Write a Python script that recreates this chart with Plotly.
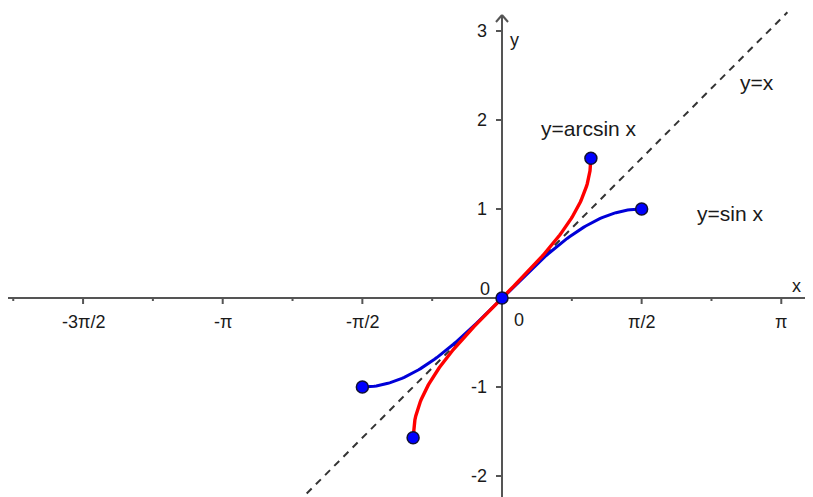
import numpy as np
import plotly.graph_objects as go

# ---- data ----
sin_x = np.linspace(-np.pi / 2, np.pi / 2, 121)          # domain of y = sin x
sin_y = np.sin(sin_x)
asin_x = np.linspace(-1, 1, 201)                         # domain of y = arcsin x
asin_y = np.arcsin(asin_x)
line_x = [-2.3, 3.21]                                    # y = x dashed line
line_y = [-2.3, 3.21]
point_x = [-np.pi / 2, np.pi / 2, -1, 1, 0]
point_y = [-1, 1, -np.pi / 2, np.pi / 2, 0]

xtick_vals = [-3 * np.pi / 2, -np.pi, -np.pi / 2, np.pi / 2, np.pi]
xtick_text = ["-3π/2", "-π", "-π/2", "π/2", "π"]
xminor_vals = [-7 * np.pi / 4, -5 * np.pi / 4, -3 * np.pi / 4, -np.pi / 4,
               np.pi / 4, 3 * np.pi / 4, 5 * np.pi / 4]
ytick_vals = [-2, -1, 1, 2, 3]
ytick_text = ["-2", "-1", "1", "2", "3"]

curve_labels = [("y=arcsin x", 0.98, 1.90), ("y=x", 2.87, 2.42), ("y=sin x", 2.56, 0.955)]

# ---- layout constants ----
# page has an 8px body margin; figure covers page pixels 8..813 x 8..497
W, H = 805, 489
SX, SY = 88.9, 89.0            # px per unit
OX, OY = 502, 298              # origin in page pixels
XR = [(8 - OX) / SX, (813 - OX) / SX]
YR = [-(497 - OY) / SY, (OY - 8) / SY]
AX = "#555555"
TXT = "#1a1a1a"
FONT = "Liberation Sans, Arial, sans-serif"
FS_T = 18
FS_L = 21

fig = go.Figure()

shapes = []
shapes.append(dict(type="line", x0=XR[0], x1=XR[1], y0=0, y1=0, line=dict(color=AX, width=2), layer="below"))
shapes.append(dict(type="line", x0=0, x1=0, y0=YR[0], y1=3.18, line=dict(color=AX, width=2), layer="below"))
for s in (-1, 1):
    shapes.append(dict(type="line", x0=0, y0=3.18, x1=s * 6 / SX, y1=3.18 - 7 / SY,
                       line=dict(color=AX, width=2)))
for v in xtick_vals:
    shapes.append(dict(type="line", x0=v, x1=v, y0=0, y1=-6 / SY, line=dict(color=AX, width=2)))
for v in xminor_vals:
    shapes.append(dict(type="line", x0=v, x1=v, y0=0, y1=-3 / SY, line=dict(color=AX, width=2)))
for v in ytick_vals:
    shapes.append(dict(type="line", x0=0, x1=-6 / SX, y0=v, y1=v, line=dict(color=AX, width=2)))

def txt(x, y, t, size, xa="center"):
    return dict(x=x, y=y, text=t, showarrow=False, xanchor=xa, yanchor="middle",
                font=dict(family=FONT, size=size, color=TXT))

annotations = []
for v, t in zip(xtick_vals, xtick_text):
    annotations.append(txt(v, -24 / SY, t, FS_T))
for v, t in zip(ytick_vals, ytick_text):
    annotations.append(txt(-13 / SX, v, t, FS_T, "right"))
annotations.append(txt(-10 / SX, 9 / SY, "0", FS_T, "right"))
annotations.append(txt(10 / SX, -22 / SY, "0", FS_T, "left"))
annotations.append(txt(3.31, 0.135, "x", FS_T))
annotations.append(txt(0.135, 2.90, "y", FS_T))
for t, x, y in curve_labels:
    annotations.append(txt(x, y, t, FS_L))

fig.add_trace(go.Scatter(x=line_x, y=line_y, mode="lines",
                         line=dict(color="#333333", width=2, dash="7px,6px"), hoverinfo="skip"))
fig.add_trace(go.Scatter(x=sin_x, y=sin_y, mode="lines", line=dict(color="#0000d8", width=3), hoverinfo="skip"))
fig.add_trace(go.Scatter(x=asin_x, y=asin_y, mode="lines", line=dict(color="#ff0000", width=3.4), hoverinfo="skip"))
fig.add_trace(go.Scatter(x=point_x, y=point_y, mode="markers",
                         marker=dict(color="#0000ff", size=12, line=dict(color="#111133", width=1.5)),
                         hoverinfo="skip"))

fig.update_layout(
    width=W, height=H, margin=dict(l=0, r=0, t=0, b=0),
    paper_bgcolor="white", plot_bgcolor="white", showlegend=False,
    xaxis=dict(range=XR, visible=False, fixedrange=True),
    yaxis=dict(range=YR, visible=False, fixedrange=True),
    shapes=shapes, annotations=annotations,
)
fig.write_html("out.html", config={"displayModeBar": False})
